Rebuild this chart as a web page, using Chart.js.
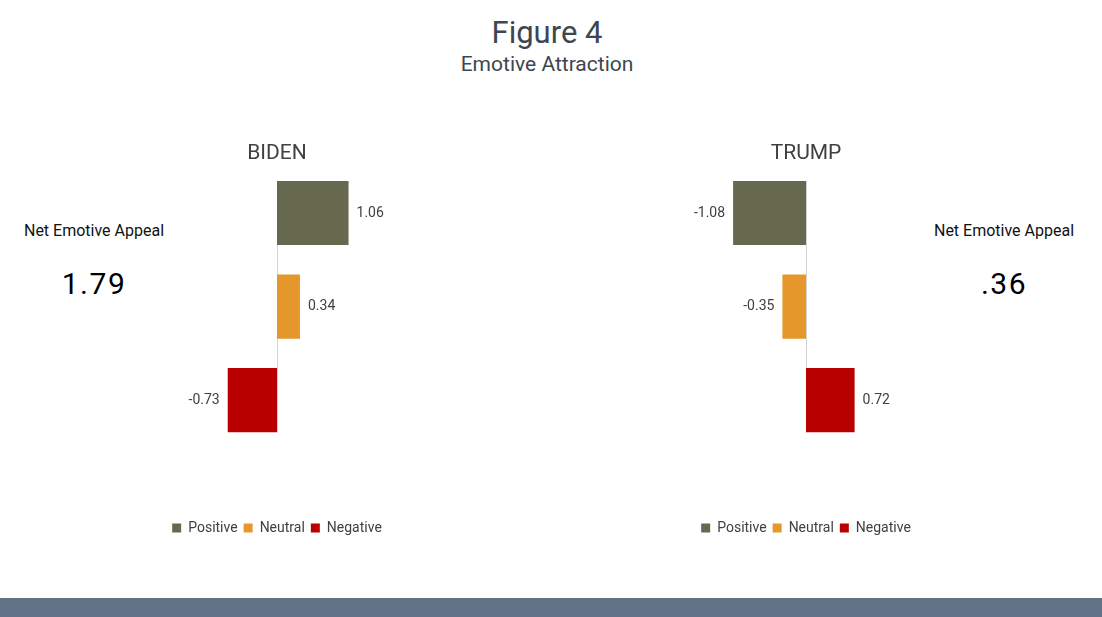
<!DOCTYPE html>
<html>
<head>
<meta charset="utf-8">
<script src="https://cdn.jsdelivr.net/npm/chart.js@4/dist/chart.umd.min.js"></script>
<style>
  html, body { margin: 0; padding: 0; background: #fff; }
  body { width: 1102px; height: 617px; position: relative; overflow: hidden; font-family: Roboto, "Noto Sans", sans-serif; }
  .txt { position: absolute; white-space: nowrap; transform: translate(-50%, -50%); }
  .box { position: absolute; top: 130px; width: 270px; height: 415px; }
  #band { position: absolute; left: 0; top: 598px; width: 1102px; height: 19px; background: #617287; }
</style>
</head>
<body>

<div class="txt" style="left:547px; top:32px; font-size:31px; color:#3c474f;">Figure 4</div>
<div class="txt" style="left:547px; top:64px; font-size:21px; color:#3c474f;">Emotive Attraction</div>

<div class="txt" style="left:94px; top:230px; font-size:16px; color:#111;">Net Emotive Appeal</div>
<div class="txt" style="left:94px; top:283px; font-size:30px; color:#000; letter-spacing:1.5px;">1.79</div>
<div class="txt" style="left:1004px; top:230px; font-size:16px; color:#111;">Net Emotive Appeal</div>
<div class="txt" style="left:1004px; top:283px; font-size:30px; color:#000; letter-spacing:1.5px;">.36</div>

<div class="box" style="left:142px;"><canvas id="bidenChart"></canvas></div>
<div class="box" style="left:671px;"><canvas id="trumpChart"></canvas></div>

<div id="band"></div>

<script>
// --- datos ---
const categorias = ['Positive', 'Neutral', 'Negative'];
const valoresBiden = [1.06, 0.34, -0.73];
const valoresTrump = [-1.08, -0.35, 0.72];
const colores = ['#67694f', '#e5972c', '#b80000'];

const FUENTE = 'Roboto, "Noto Sans", sans-serif';

// etiquetas de valor al final de cada barra
const etiquetasPlugin = {
    id: 'etiquetas',
    afterDatasetsDraw(chart) {
        const ctx = chart.ctx;
        ctx.save();
        ctx.font = '14px ' + FUENTE;
        ctx.fillStyle = '#404040';
        ctx.textBaseline = 'middle';
        chart.data.datasets.forEach((ds, i) => {
            chart.getDatasetMeta(i).data.forEach((el, j) => {
                const v = ds.data[j];
                if (v === null) return;
                ctx.textAlign = v >= 0 ? 'left' : 'right';
                ctx.fillText(v.toFixed(2), v >= 0 ? el.x + 8 : el.x - 8, el.y);
            });
        });
        ctx.restore();
    }
};

// línea vertical del eje en cero, solo entre la primera y la última barra
const ejeCeroPlugin = {
    id: 'ejeCero',
    beforeDatasetsDraw(chart) {
        const n = chart.data.datasets.length;
        const primera = chart.getDatasetMeta(0).data[0];
        const ultima = chart.getDatasetMeta(n - 1).data[n - 1];
        const x = Math.round(chart.scales.x.getPixelForValue(0)) + 0.5;
        const ctx = chart.ctx;
        ctx.save();
        ctx.strokeStyle = '#d4d4d4';
        ctx.lineWidth = 1;
        ctx.beginPath();
        ctx.moveTo(x, primera.y - primera.height / 2);
        ctx.lineTo(x, ultima.y + ultima.height / 2);
        ctx.stroke();
        ctx.restore();
    }
};

function crearGrafico(id, titulo, valores) {
    const datasets = categorias.map((c, i) => ({
        label: c,
        data: categorias.map((_, j) => (j === i ? valores[i] : null)),
        backgroundColor: colores[i],
        borderWidth: 0,
        grouped: false,
        categoryPercentage: 1,
        barPercentage: 0.686
    }));

    return new Chart(document.getElementById(id), {
        type: 'bar',
        data: { labels: categorias, datasets },
        options: {
            indexAxis: 'y',
            responsive: true,
            maintainAspectRatio: false,
            animation: false,
            layout: { padding: 0 },
            plugins: {
                title: {
                    display: true,
                    text: titulo,
                    color: '#404040',
                    font: { family: FUENTE, size: 21, weight: 'normal' },
                    padding: { top: 11, bottom: 0 }
                },
                legend: {
                    position: 'bottom',
                    labels: {
                        boxWidth: 9,
                        boxHeight: 9,
                        padding: 6,
                        color: '#404040',
                        font: { family: FUENTE, size: 14 }
                    }
                },
                tooltip: { enabled: false }
            },
            scales: {
                x: {
                    min: -2,
                    max: 2,
                    display: true,
                    grid: { display: false },
                    border: { display: false },
                    ticks: { display: false },
                    // espacio vacío entre las barras y la leyenda
                    afterFit: s => { s.height = 68; }
                },
                y: { display: false }
            }
        },
        plugins: [ejeCeroPlugin, etiquetasPlugin]
    });
}

crearGrafico('bidenChart', 'BIDEN', valoresBiden);
crearGrafico('trumpChart', 'TRUMP', valoresTrump);
</script>
</body>
</html>
